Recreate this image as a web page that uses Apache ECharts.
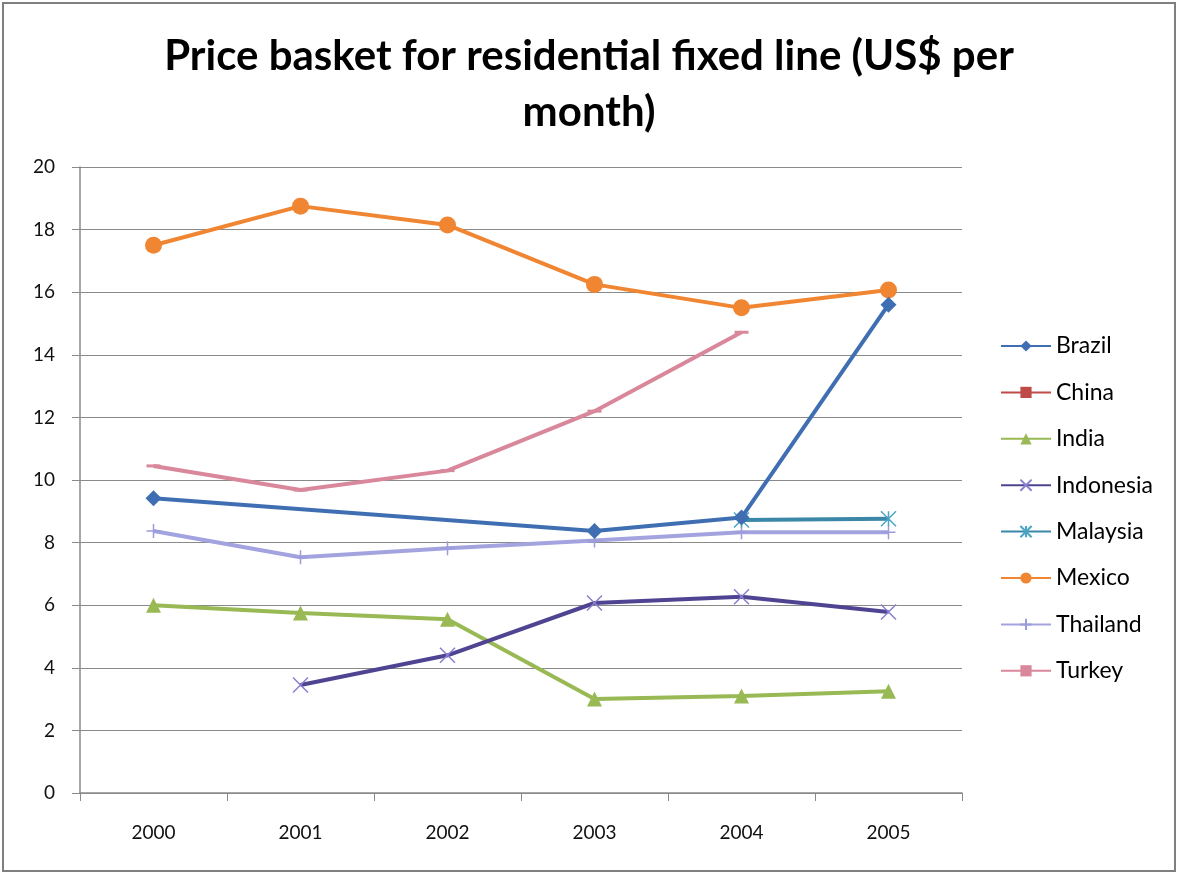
<!DOCTYPE html>
<html>
<head>
<meta charset="utf-8">
<script src="https://cdn.jsdelivr.net/npm/echarts@6/dist/echarts.min.js"></script>
<style>html,body{margin:0;padding:0;background:#fff}#c{width:1178px;height:875px}</style>
</head>
<body>
<div id="c"></div>
<script>
const years = ['2000','2001','2002','2003','2004','2005'];
const brazil    = [9.42, null, null, 8.37, 8.8, 15.6];
const china     = [null, null, null, null, null, null];
const india     = [6.0, 5.75, 5.55, 3.0, 3.1, 3.25];
const indonesia = [null, 3.45, 4.4, 6.07, 6.27, 5.78];
const malaysia  = [null, null, null, null, 8.72, 8.76];
const mexico    = [17.5, 18.75, 18.15, 16.25, 15.5, 16.07];
const thailand  = [8.37, 7.53, 7.82, 8.07, 8.33, 8.33];
const turkey    = [10.45, 9.68, 10.3, 12.2, 14.72, null];
const yTicks = [0, 20, 2];

const X_PATH = 'path://M0,0L10,10M10,0L0,10';
const AST_PATH = 'path://M0,0L10,10M10,0L0,10M5,0L5,10';
const PLUS_PATH = 'path://M5,0L5,10M0,5L10,5';

function mk(name, data, color, symbol, size, opts) {
  opts = opts || {};
  return {
    name: name, type: 'line', data: data, connectNulls: true,
    symbol: symbol, symbolSize: size,
    lineStyle: { color: opts.line || color, width: 4 },
    itemStyle: opts.stroke ? { color: 'rgba(0,0,0,0)', borderColor: color, borderWidth: 1.5 } : { color: color, borderColor: color, borderWidth: 0 },
    emphasis: { disabled: true },
    z: opts.z || 2
  };
}

const chart = echarts.init(document.getElementById('c'));
chart.setOption({
  backgroundColor: '#fff',
  animation: false,
  textStyle: { fontFamily: 'Lato' },
  graphic: [{
    type: 'rect', shape: { x: 3, y: 3, width: 1172, height: 868 },
    style: { fill: 'none', stroke: '#7f7f7f', lineWidth: 2 }, silent: true
  }],
  title: {
    text: 'Price basket for residential fixed line (US$ per\nmonth)',
    left: 'center', top: 23,
    textStyle: { fontFamily: 'Lato', fontWeight: 'bold', fontSize: 42, color: '#000', lineHeight: 56 }
  },
  legend: {
    orient: 'vertical', left: 995, top: 329,
    itemWidth: 50, itemHeight: 14, itemGap: 22.4,
    textStyle: { fontFamily: 'Lato', fontSize: 23, color: '#000', lineHeight: 24, padding: [0, 0, 0, 0] },
    data: ['Brazil','China','India','Indonesia','Malaysia','Mexico','Thailand','Turkey']
  },
  grid: { left: 80, right: 216, top: 167, bottom: 82 },
  xAxis: {
    type: 'category', data: years, boundaryGap: true,
    axisLine: { lineStyle: { color: '#8a8a8a', width: 1.5 } },
    axisTick: { show: true, length: 8, lineStyle: { color: '#8a8a8a' } },
    axisLabel: { fontFamily: 'Lato', fontSize: 19, color: '#111', margin: 30 }
  },
  yAxis: {
    type: 'value', min: yTicks[0], max: yTicks[1], interval: yTicks[2],
    axisLine: { show: true, lineStyle: { color: '#8a8a8a', width: 1.5 } },
    axisTick: { show: true, length: 8, lineStyle: { color: '#8a8a8a' } },
    axisLabel: { fontFamily: 'Lato', fontSize: 19, color: '#111', margin: 25 },
    splitLine: { lineStyle: { color: '#8a8a8a', width: 1.2 } }
  },
  series: [
    mk('Brazil', brazil, '#3F6FB2', 'diamond', 16, { z: 4 }),
    mk('China', china, '#BE4B48', 'rect', 13),
    mk('India', india, '#98B954', 'triangle', 15),
    mk('Indonesia', indonesia, '#8A7FD0', X_PATH, 15, { stroke: true, line: '#4E4492' }),
    mk('Malaysia', malaysia, '#4AA5C4', AST_PATH, 15, { stroke: true, line: '#3B87A8', z: 3 }),
    mk('Mexico', mexico, '#F08532', 'circle', 17),
    mk('Thailand', thailand, '#9C9BDB', PLUS_PATH, 14, { stroke: true, line: '#A3A3DF' }),
    mk('Turkey', turkey, '#D9879B', 'rect', [14, 3])
  ]
});
</script>
</body>
</html>
